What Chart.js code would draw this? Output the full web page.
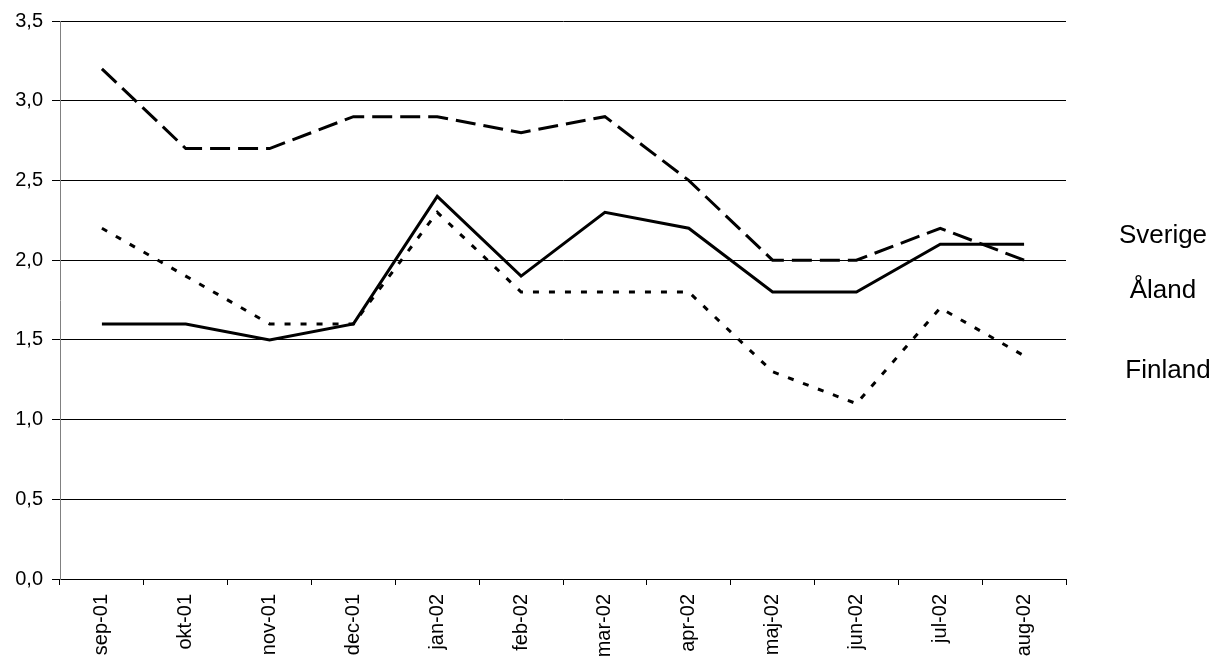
<!DOCTYPE html>
<html>
<head>
<meta charset="utf-8">
<script src="https://cdn.jsdelivr.net/npm/chart.js@4"></script>
<style>
    html, body { margin: 0; padding: 0; background: #fff; }
    #wrap { width: 1218px; height: 658px; position: relative; }
</style>
</head>
<body>
<div id="wrap"><canvas id="price-chart"></canvas></div>
<script>
const months = ["sep-01", "okt-01", "nov-01", "dec-01", "jan-02", "feb-02",
                "mar-02", "apr-02", "maj-02", "jun-02", "jul-02", "aug-02"];
const sverige = [3.2, 2.7, 2.7, 2.9, 2.9, 2.8, 2.9, 2.5, 2.0, 2.0, 2.2, 2.0];
const aland   = [1.6, 1.6, 1.5, 1.6, 2.4, 1.9, 2.3, 2.2, 1.8, 1.8, 2.1, 2.1];
const finland = [2.2, 1.9, 1.6, 1.6, 2.3, 1.8, 1.8, 1.8, 1.3, 1.1, 1.7, 1.4];
const series_names = ["Sverige", "Åland", "Finland"];

const font_family = "'Liberation Sans', Arial, sans-serif";

// names written beside the plot instead of a legend
const side_labels = {
    id: "sideLabels",
    afterDraw(chart) {
        const ctx = chart.ctx;
        const area = chart.chartArea;
        const offsets = [215, 270, 350];   // distance from plot top
        const shifts = [0, 0, 5];
        ctx.save();
        ctx.font = "26px " + font_family;
        ctx.fillStyle = "#000";
        ctx.textAlign = "center";
        ctx.textBaseline = "middle";
        for (let i = 0; i < series_names.length; i ++) {
            ctx.fillText(series_names[i], area.right + 97 + shifts[i], area.top + offsets[i]);
        }
        ctx.restore();
    }
};

const line_data = {
    labels: months,
    datasets: [{
        label: series_names[0],
        data: sverige,
        borderColor: "#000",
        borderWidth: 3,
        borderDash: [20, 8],
        pointRadius: 0,
        tension: 0
    },
    {
        label: series_names[1],
        data: aland,
        borderColor: "#000",
        borderWidth: 3,
        pointRadius: 0,
        tension: 0
    },
    {
        label: series_names[2],
        data: finland,
        borderColor: "#000",
        borderWidth: 3,
        borderDash: [6, 10],
        pointRadius: 0,
        tension: 0
    }]
};

const config_line = {
    type: "line",
    data: line_data,
    options: {
        responsive: true,
        maintainAspectRatio: false,
        animation: false,
        layout: {
            padding: { top: 19, right: 152, left: 0, bottom: 0 }
        },
        plugins: {
            legend: { display: false },
            tooltip: { enabled: false }
        },
        scales: {
            x: {
                offset: true,
                afterFit: (scale) => { scale.height = 79; },
                grid: {
                    offset: true,
                    drawOnChartArea: false,
                    drawTicks: true,
                    tickLength: 6,
                    color: "#000"
                },
                border: { color: "#000", width: 1 },
                ticks: {
                    autoSkip: false,
                    minRotation: 90,
                    maxRotation: 90,
                    padding: 9,
                    color: "#000",
                    font: { family: font_family, size: 20 }
                }
            },
            y: {
                min: 0,
                max: 3.5,
                afterFit: (scale) => { scale.width = 60; },
                grid: {
                    color: "#000",
                    lineWidth: 1,
                    tickLength: 8
                },
                border: { color: "#808080", width: 1 },
                ticks: {
                    stepSize: 0.5,
                    padding: 9,
                    color: "#000",
                    font: { family: font_family, size: 20 },
                    callback: (v) => v.toFixed(1).replace(".", ",")
                }
            }
        }
    },
    plugins: [side_labels]
};

window.addEventListener("DOMContentLoaded", () => {
    const ctx = document.getElementById("price-chart").getContext("2d");
    new Chart(ctx, config_line);
});
</script>
</body>
</html>
